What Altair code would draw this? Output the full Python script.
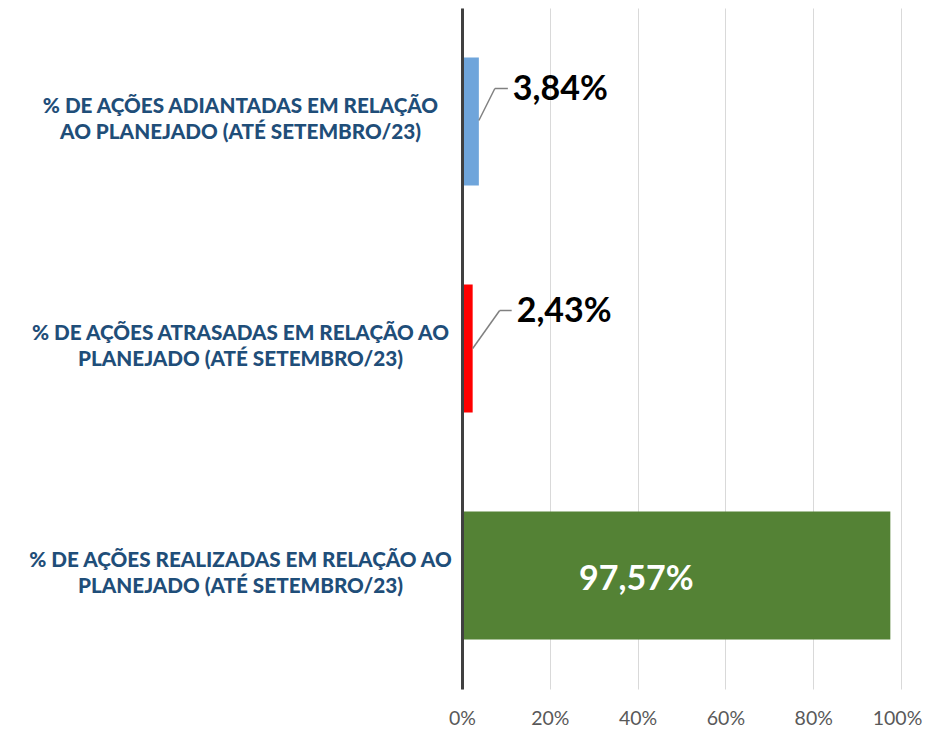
import altair as alt
import pandas as pd

categories = [
    "% DE AÇÕES ADIANTADAS EM RELAÇÃO|AO PLANEJADO (ATÉ SETEMBRO/23)",
    "% DE AÇÕES ATRASADAS EM RELAÇÃO AO|PLANEJADO (ATÉ SETEMBRO/23)",
    "% DE AÇÕES REALIZADAS EM RELAÇÃO AO|PLANEJADO (ATÉ SETEMBRO/23)",
]
values = [0.0384, 0.0243, 0.9757]
labels = ["3,84%", "2,43%", "97,57%"]
colors = ["#6FA5DB", "#FF0000", "#548235"]
ticks = [0, 0.2, 0.4, 0.6, 0.8, 1.0]

df = pd.DataFrame({"cat": categories, "value": values, "label": labels, "idx": [0, 1, 2]})

FONT = "Lato"
LEAD = "#808080"

yenc = alt.Y(
    "cat:N",
    sort=categories,
    scale=alt.Scale(paddingInner=0.436, paddingOuter=0.218),
    axis=alt.Axis(
        title=None,
        ticks=False,
        grid=False,
        domainColor="#404040",
        domainWidth=3,
        labelAlign="center",
        labelBaseline="middle",
        labelPadding=222,
        labelOffset=-15,
        labelFont=FONT,
        labelFontWeight=900,
        labelFontSize=20.7,
        labelColor="#1F4E79",
        labelLineHeight=26,
        labelLimit=0,
        labelExpr="split(datum.label, '|')",
        zindex=2,
    ),
)
xenc = alt.X(
    "value:Q",
    scale=alt.Scale(domain=[0, 1], nice=False),
    axis=alt.Axis(
        title=None,
        values=ticks,
        format=".0%",
        grid=True,
        gridColor="#D9D9D9",
        gridWidth=1,
        domain=False,
        ticks=False,
        labelFlush=False,
        labelOverlap=False,
        labelOffset={"expr": "datum.value == 1 ? -4 : 0"},
        labelFont=FONT,
        labelFontSize=19.5,
        labelColor="#595959",
        labelPadding=20,
    ),
)

base = alt.Chart(df)

bars = base.mark_bar().encode(
    y=yenc,
    x=xenc,
    color=alt.Color("cat:N", scale=alt.Scale(domain=categories, range=colors), legend=None),
)

def leader(i, dx1, dy0, dy1, dx2):
    sub = base.transform_filter(alt.datum.idx == i)
    diag = sub.mark_rule(color=LEAD, strokeWidth=1.5, yOffset=dy0, x2Offset=dx1, y2Offset=dy1).encode(
        x="value:Q", x2="value:Q", y="cat:N", y2="cat:N"
    )
    horiz = sub.mark_rule(color=LEAD, strokeWidth=1.5, xOffset=dx1, x2Offset=dx2, yOffset=dy1).encode(
        x="value:Q", x2="value:Q", y="cat:N"
    )
    return diag + horiz

lead0 = leader(0, 16, -1, -33, 29)
lead1 = leader(1, 27, 0, -38, 39)

def vlabel(i, dx, dy, color, align):
    return (
        base.transform_filter(alt.datum.idx == i)
        .mark_text(align=align, baseline="middle", dx=dx, dy=dy, font=FONT, fontWeight="bold",
                   fontSize=34, color=color)
        .encode(x="value:Q", y="cat:N", text="label:N")
    )

t0 = vlabel(0, 34, -32, "#000000", "left")
t1 = vlabel(1, 44, -37, "#000000", "left")
t2 = vlabel(2, -254, 4, "#FFFFFF", "center")

chart = (
    alt.layer(bars, lead0, lead1, t0, t1, t2)
    .properties(
        width=439,
        height=681,
        autosize=alt.AutoSizeParams(type="none"),
        padding={"left": 454, "top": 0, "right": 23, "bottom": 40},
    )
    .configure_view(stroke=None)
)

chart.save("out.html", embed_options={"renderer": "svg", "actions": False})
